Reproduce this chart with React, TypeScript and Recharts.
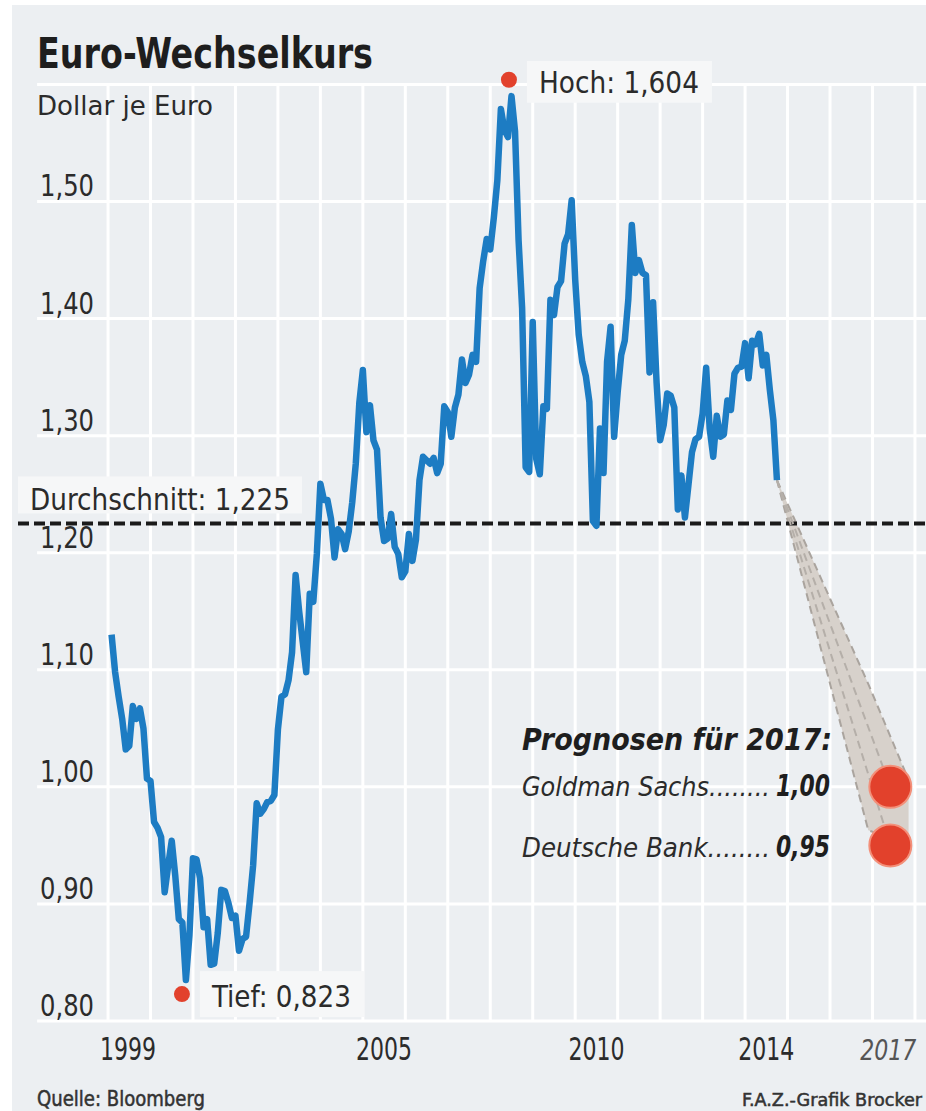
import React from 'react'
import {
  ComposedChart,
  Line,
  Area,
  Scatter,
  XAxis,
  YAxis,
  ReferenceLine,
} from 'recharts'

// month-end EUR/USD, Jan 1999 .. Sep 2014
const firstYear = 1999
const monthlyRates = [
  1.13, 1.098, 1.077, 1.058, 1.032, 1.035, 1.069, 1.058, 1.067, 1.05, 1.007, 1.005, // 1999
  0.97, 0.965, 0.957, 0.91, 0.933, 0.954, 0.924, 0.887, 0.884, 0.835, 0.873, 0.939, // 2000
  0.938, 0.922, 0.88, 0.887, 0.848, 0.849, 0.875, 0.912, 0.911, 0.901, 0.888, 0.89, // 2001
  0.86, 0.87, 0.872, 0.901, 0.933, 0.986, 0.977, 0.981, 0.987, 0.988, 0.993, 1.049, // 2002
  1.077, 1.079, 1.091, 1.115, 1.181, 1.15, 1.124, 1.098, 1.165, 1.158, 1.199, 1.259, // 2003
  1.245, 1.245, 1.229, 1.196, 1.22, 1.216, 1.203, 1.218, 1.243, 1.276, 1.328, 1.356, // 2004
  1.303, 1.326, 1.296, 1.288, 1.23, 1.21, 1.212, 1.233, 1.205, 1.199, 1.179, 1.184, // 2005
  1.216, 1.193, 1.211, 1.262, 1.282, 1.279, 1.276, 1.281, 1.268, 1.276, 1.325, 1.32, // 2006
  1.299, 1.324, 1.335, 1.365, 1.345, 1.352, 1.369, 1.363, 1.426, 1.449, 1.468, 1.459, // 2007
  1.486, 1.518, 1.579, 1.561, 1.555, 1.59, 1.56, 1.467, 1.409, 1.273, 1.269, 1.397, // 2008
  1.28, 1.267, 1.325, 1.323, 1.416, 1.403, 1.427, 1.432, 1.464, 1.472, 1.501, 1.433, // 2009
  1.386, 1.363, 1.351, 1.329, 1.227, 1.223, 1.306, 1.268, 1.363, 1.393, 1.299, 1.337, // 2010
  1.369, 1.381, 1.416, 1.48, 1.439, 1.45, 1.439, 1.437, 1.354, 1.414, 1.345, 1.296, // 2011
  1.309, 1.336, 1.334, 1.324, 1.237, 1.266, 1.23, 1.258, 1.286, 1.297, 1.299, 1.319, // 2012
  1.358, 1.306, 1.282, 1.317, 1.299, 1.301, 1.33, 1.322, 1.353, 1.358, 1.359, 1.379, // 2013
  1.349, 1.381, 1.378, 1.387, 1.36, 1.369, 1.339, 1.313, 1.262, // 2014
]

const average = 1.225
const extremes = [
  { x: 2008.44, y: 1.604, label: 'Hoch: 1,604', w: 160 },
  { x: 2000.74, y: 0.823, label: 'Tief: 0,823', w: 139 },
]

const forecastYear = 2017.42
const forecastBanks = ['Goldman Sachs', 'Deutsche Bank']
const forecastValues = [1.0, 0.95]
const forecastLabels = ['1,00', '0,95']
// outline of the grey forecast wedge (low / high edge)
const coneYears = [2016.9, 2017.85]
const coneLow = [0.963, 0.95]
const coneHigh = [1.088, 1.006]

const yTicks = [0.8, 0.9, 1.0, 1.1, 1.2, 1.3, 1.4, 1.5]
const gridValues = [0.8, 0.9, 1.0, 1.1, 1.2, 1.3, 1.4, 1.5, 1.6]
const gridYears = [1999, 2000, 2001, 2002, 2003, 2004, 2005, 2006, 2007, 2008, 2009, 2010, 2011, 2012, 2013, 2014, 2015, 2016, 2017, 2018]
const xTicks = [1999.47, 2005.5, 2010.5, 2014.5, 2017.37]
const xTickLabels = ['1999', '2005', '2010', '2014', '2017']

const X_MIN = 1996.88
const X_MAX = 2018.26
const GRID_LEFT = 1997.33

const FONT = "'Liberation Sans Narrow', 'DejaVu Sans Condensed', 'Open Sans', sans-serif"
const TEXT = '#2b2b2b'
const BG = '#eceff2'
const BLUE = '#1d7cc3'
const RED = '#e2412c'

const series = monthlyRates.map((v, i) => ({ x: firstYear + (i + 1) / 12, y: v }))
const last = series[series.length - 1]
const coneData = [
  { x: last.x, range: [last.y, last.y] },
  ...coneYears.map((x, i) => ({ x, range: [coneLow[i], coneHigh[i]] })),
]
const forecastPoints = forecastValues.map((v) => ({ x: forecastYear, y: v }))

const XTick = ({ x, y, payload }: any) => {
  const i = xTicks.indexOf(payload.value)
  const isForecast = i === xTicks.length - 1
  return (
    <text
      x={x}
      y={y + 31}
      textAnchor="middle"
      fontFamily={FONT}
      fontSize={isForecast ? 28 : 32}
      fontStyle={isForecast ? 'italic' : 'normal'}
      fill={isForecast ? '#555' : TEXT}
      textLength={56}
      lengthAdjust="spacingAndGlyphs"
    >
      {xTickLabels[i]}
    </text>
  )
}

const YTick = ({ y, payload }: any) => (
  <text x={40} y={y - 5} fontFamily={FONT} fontSize={30} fill={TEXT} textLength={54} lengthAdjust="spacingAndGlyphs">
    {payload.value.toFixed(2).replace('.', ',')}
  </text>
)

const ExtremeShape = ({ cx, cy, payload }: any) => (
  <g>
    <rect x={cx + 18} y={cy - 23} width={payload.w + 25} height={46} fill="#f6f7f8" />
    <circle cx={cx} cy={cy} r={8} fill={RED} />
    <text x={cx + 30} y={cy + 13} fontFamily={FONT} fontSize={31} fill={TEXT} textLength={payload.w} lengthAdjust="spacingAndGlyphs">
      {payload.label}
    </text>
  </g>
)

const ForecastDot = ({ cx, cy }: any) => (
  <circle cx={cx} cy={cy} r={21} fill={RED} stroke="#f3907a" strokeWidth={2} />
)

const AverageLabel = ({ viewBox }: any) => (
  <g>
    <rect x={viewBox.x} y={viewBox.y - 47} width={284} height={37} fill="#f6f7f8" />
    <text x={viewBox.x + 12} y={viewBox.y - 13} fontFamily={FONT} fontSize={31} fill={TEXT} textLength={260} lengthAdjust="spacingAndGlyphs">
      Durchschnitt: 1,225
    </text>
  </g>
)

export default function App() {
  return (
    <div style={{ position: 'absolute', left: 0, top: 0, width: 926, height: 1111, background: '#fff', overflow: 'hidden' }}>
      <div style={{ position: 'absolute', left: 12, top: 5, right: 0, bottom: 0, background: BG }} />
      <div style={{ position: 'absolute', left: 0, top: 0 }}>
        <ComposedChart width={926} height={1111} margin={{ top: 61, right: 0, bottom: 50, left: 0 }}>
          <XAxis
            type="number"
            dataKey="x"
            domain={[X_MIN, X_MAX]}
            allowDataOverflow
            ticks={xTicks}
            tick={<XTick />}
            axisLine={false}
            tickLine={false}
            interval={0}
            height={40}
          />
          <YAxis
            type="number"
            domain={[0.8, 1.62]}
            allowDataOverflow
            ticks={yTicks}
            tick={<YTick />}
            axisLine={false}
            tickLine={false}
            interval={0}
            width={18}
          />
          {gridValues.map((v) => (
            <ReferenceLine
              key={'h' + v}
              segment={[{ x: GRID_LEFT, y: v }, { x: X_MAX, y: v }]}
              stroke="#ffffff"
              strokeWidth={3}
              zIndex={-100}
            />
          ))}
          {gridYears.map((yr) => (
            <ReferenceLine
              key={'v' + yr}
              segment={[{ x: yr, y: 0.8 }, { x: yr, y: 1.6 }]}
              stroke="#ffffff"
              strokeWidth={3}
              zIndex={-100}
            />
          ))}
          <ReferenceLine y={average} stroke="#1a1a1a" strokeWidth={4} strokeDasharray="11 5" label={<AverageLabel />} />
          <Area
            data={coneData}
            dataKey="range"
            type="linear"
            fill="#d7d1cb"
            fillOpacity={1}
            stroke="#aaa49e"
            strokeWidth={2}
            strokeDasharray="8 5"
            isAnimationActive={false}
          />
          {forecastPoints.map((p, i) => (
            <Line
              key={'f' + i}
              data={[{ x: last.x, y: last.y }, p]}
              dataKey="y"
              type="linear"
              stroke="#b5afa9"
              strokeWidth={2}
              strokeDasharray="8 5"
              dot={false}
              isAnimationActive={false}
            />
          ))}
          <Line
            data={series}
            dataKey="y"
            type="linear"
            stroke={BLUE}
            strokeWidth={6.5}
            strokeLinejoin="round"
            dot={false}
            isAnimationActive={false}
          />
          <Scatter data={forecastPoints} dataKey="y" shape={<ForecastDot />} isAnimationActive={false} />
          <Scatter data={extremes} dataKey="y" shape={<ExtremeShape />} isAnimationActive={false} />
        </ComposedChart>
      </div>
      <svg width={926} height={1111} style={{ position: 'absolute', left: 0, top: 0, pointerEvents: 'none' }}>
        <text x={37} y={68} fontFamily={FONT} fontSize={42} fontWeight="bold" fill="#1e1e1e" textLength={336} lengthAdjust="spacingAndGlyphs">
          Euro-Wechselkurs
        </text>
        <text x={37} y={115} fontFamily={FONT} fontSize={26} fill={TEXT} textLength={176} lengthAdjust="spacingAndGlyphs">
          Dollar je Euro
        </text>
        <text x={522} y={750} fontFamily={FONT} fontSize={31} fontWeight="bold" fontStyle="italic" fill="#1e1e1e" textLength={310} lengthAdjust="spacingAndGlyphs">
          Prognosen für 2017:
        </text>
        {forecastBanks.map((b, i) => (
          <g key={b}>
            <text x={522} y={796 + i * 61} fontFamily={FONT} fontSize={27} fontStyle="italic" fill={TEXT} textLength={248} lengthAdjust="spacingAndGlyphs">
              {b}........
            </text>
            <text x={776} y={796 + i * 61} fontFamily={FONT} fontSize={30} fontWeight="bold" fontStyle="italic" fill="#1e1e1e" textLength={54} lengthAdjust="spacingAndGlyphs">
              {forecastLabels[i]}
            </text>
          </g>
        ))}
        <text x={37} y={1106} fontFamily={FONT} fontSize={21} fill="#333" stroke="#333" strokeWidth={0.5} textLength={168} lengthAdjust="spacingAndGlyphs">
          Quelle: Bloomberg
        </text>
        <text x={742} y={1106} fontFamily={FONT} fontSize={18} fill="#333" stroke="#333" strokeWidth={0.5} textLength={180} lengthAdjust="spacingAndGlyphs">
          F.A.Z.-Grafik Brocker
        </text>
      </svg>
    </div>
  )
}
